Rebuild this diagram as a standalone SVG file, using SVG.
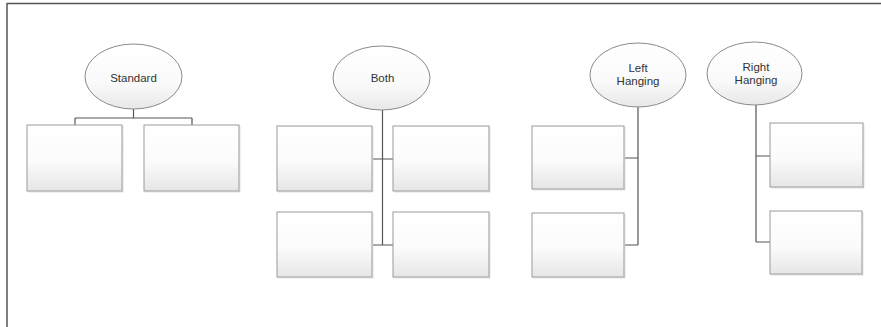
<svg xmlns="http://www.w3.org/2000/svg" width="881" height="327" viewBox="0 0 881 327">
<style>
.box{fill:url(#bg);stroke:#9a9a9a;stroke-width:1}
.sh{fill:none;stroke:#c4c4c4;stroke-width:1.5}
.ell{fill:url(#eg);stroke:#8a8a8a;stroke-width:1}
.lbl{font-family:"Liberation Sans",Arial,sans-serif;font-size:11.5px;fill:#333;text-anchor:middle}
.con{fill:none;stroke:#555;stroke-width:1.2}
.frame{stroke:#555;stroke-width:1.5}
</style>
<defs>
<linearGradient id="bg" x1="0" y1="0" x2="0" y2="1">
<stop offset="0" stop-color="#ffffff"/>
<stop offset="0.55" stop-color="#fbfbfb"/>
<stop offset="1" stop-color="#e6e6e6"/>
</linearGradient>
<linearGradient id="eg" x1="0" y1="0" x2="0" y2="1">
<stop offset="0" stop-color="#ffffff"/>
<stop offset="0.6" stop-color="#fafafa"/>
<stop offset="1" stop-color="#e8e8e8"/>
</linearGradient>
</defs>
<rect width="881" height="327" fill="#fff"/>
<line class="frame" x1="7" y1="3.5" x2="881" y2="3.5"/>
<line class="frame" x1="7" y1="3" x2="7" y2="327"/>

<g id="connectors">
<path class="con" d="M133.5 109 V118 M75 118 H192 M75 118 V125 M192 118 V125"/>
<path class="con" d="M382.5 110 V245 M372 159 H393 M372 245 H393"/>
<path class="con" d="M638 107 V245 M624 158 H638 M624 245 H638"/>
<path class="con" d="M756 105 V242 M756 156 H770 M756 242 H770"/>
</g>

<g id="standard"><ellipse class="ell" cx="133.5" cy="76.5" rx="48.5" ry="32.5"/><text class="lbl" x="133.5" y="82">Standard</text></g>
<g id="std-child-1"><rect class="box" x="27" y="125" width="95" height="66"/><path class="sh" d="M28 191.5 H122.5 V126"/></g>
<g id="std-child-2"><rect class="box" x="144" y="125" width="95" height="66"/><path class="sh" d="M145 191.5 H239.5 V126"/></g>

<g id="both"><ellipse class="ell" cx="381.5" cy="78" rx="48.5" ry="32"/><text class="lbl" x="382.5" y="82">Both</text></g>
<g id="both-child-1"><rect class="box" x="277" y="126" width="95" height="65"/><path class="sh" d="M278 191.5 H372.5 V127"/></g>
<g id="both-child-2"><rect class="box" x="393" y="126" width="96" height="65"/><path class="sh" d="M394 191.5 H489.5 V127"/></g>
<g id="both-child-3"><rect class="box" x="277" y="212" width="95" height="65"/><path class="sh" d="M278 277.5 H372.5 V213"/></g>
<g id="both-child-4"><rect class="box" x="393" y="212" width="96" height="65"/><path class="sh" d="M394 277.5 H489.5 V213"/></g>

<g id="left-hanging"><ellipse class="ell" cx="638" cy="75" rx="48" ry="32"/><text class="lbl" x="638" y="71.5">Left</text><text class="lbl" x="638" y="85">Hanging</text></g>
<g id="lh-child-1"><rect class="box" x="532" y="126" width="92" height="63"/><path class="sh" d="M533 189.5 H624.5 V127"/></g>
<g id="lh-child-2"><rect class="box" x="532" y="213" width="92" height="64"/><path class="sh" d="M533 277.5 H624.5 V214"/></g>

<g id="right-hanging"><ellipse class="ell" cx="754.5" cy="73.5" rx="47.5" ry="31.5"/><text class="lbl" x="756" y="70.5">Right</text><text class="lbl" x="756" y="84">Hanging</text></g>
<g id="rh-child-1"><rect class="box" x="770" y="123" width="93" height="64"/><path class="sh" d="M771 187.5 H863.5 V124"/></g>
<g id="rh-child-2"><rect class="box" x="770" y="211" width="92" height="63"/><path class="sh" d="M771 274.5 H862.5 V212"/></g>
</svg>
